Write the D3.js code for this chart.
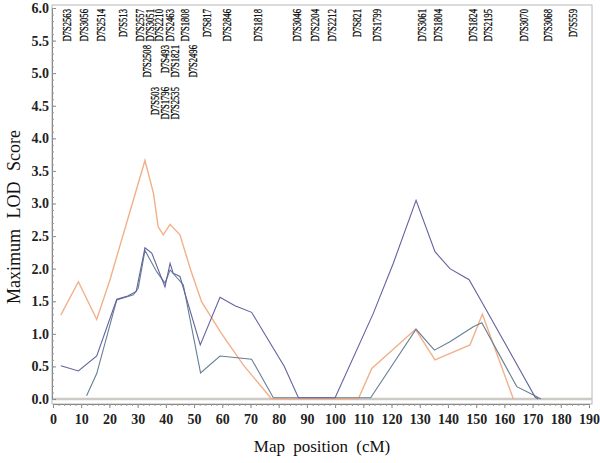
<!DOCTYPE html>
<html><head><meta charset="utf-8">
<script src="https://cdn.jsdelivr.net/npm/d3@7"></script>
<style>body{margin:0;background:#fff}svg{display:block}</style></head>
<body><svg id="c" width="600" height="463"></svg>
<script>
// ---- data ----
const markerNames = ["D7S2563","D7S3056","D7S2514","D7S513","D7S2557","D7S3051","D7S2210","D7S2463","D7S1808","D7S817","D7S2846","D7S1818","D7S3046",
  "D7S2508","D7S493","D7S1821","D7S2496",
  "D7S503","D7S1796","D7S2535",
  "D7S2204","D7S2212","D7S821","D7S1799","D7S3061","D7S1804","D7S1824","D7S2195","D7S3070","D7S3068","D7S559"];
const markerPos = [4.9,11.0,16.9,24.9,30.8,34.4,37.7,41.5,46.8,54.5,61.6,72.6,86.4,
  33.3,39.7,43.2,49.7,
  36.2,39.7,43.2,
  92.9,98.8,107.7,114.7,130.7,136.6,149.0,154.3,167.0,175.6,184.4];
const markerRow = [0,0,0,0,0,0,0,0,0,0,0,0,0, 1,1,1,1, 2,2,2, 0,0,0,0,0,0,0,0,0,0,0];

const orangeSeries = [[2.8,1.29],[9.0,1.80],[15.5,1.22],[20.2,1.83],[32.6,3.66],[35.6,3.16],[37.3,2.64],[39.1,2.52],[41.5,2.68],[45.0,2.52],[48.8,1.98],[52.7,1.49],[59.8,1.0],[67.5,0.52],[77.5,0.0],[108.2,0.0],[113,0.47],[128.5,1.07],[135.4,0.60],[147.8,0.83],[152.2,1.30],[163.2,0.0]];
const blueSeries = [[2.8,0.51],[9.0,0.43],[15.5,0.66],[22.6,1.53],[26.5,1.58],[29.5,1.65],[32.6,2.32],[35.0,2.24],[39.7,1.72],[41.5,2.08],[42.6,1.93],[45.0,1.88],[52.2,0.83],[59.2,1.56],[64.5,1.43],[70.4,1.33],[82,0.5],[87,0.02],[100,0.02],[113.5,1.31],[120.6,2.08],[128.7,3.05],[135.4,2.26],[140.7,2.0],[147.5,1.83],[152,1.49],[170.9,0.03],[172,0.0]];
const tealSeries = [[11.9,0.05],[15.5,0.39],[22.6,1.52],[28.5,1.60],[30.2,1.70],[32.6,2.28],[36.8,1.95],[39.7,1.78],[41.5,1.98],[46.2,1.75],[52.3,0.40],[59.2,0.66],[70.4,0.61],[78.1,0.02],[112.6,0.02],[128.7,1.07],[135.2,0.75],[140.7,0.88],[149,1.11],[152,1.17],[164.4,0.19],[170.3,0.06],[173,0.0]];

const yTicks = [0,0.5,1,1.5,2,2.5,3,3.5,4,4.5,5,5.5,6];
const xTicks = [0,10,20,30,40,50,60,70,80,90,100,110,120,130,140,150,160,170,180,190];

// ---- drawing ----
const svg = d3.select("#c");
const x = d3.scaleLinear().domain([0,190]).range([53,589]);
const y = d3.scaleLinear().domain([0,6]).range([399,8]);
const serif = "'Liberation Serif','DejaVu Serif',serif";

svg.append("rect").attr("x",52).attr("y",5).attr("width",540).attr("height",399)
  .attr("fill","none").attr("stroke","#b8b8b8").attr("stroke-width",1);

// zero reference line
svg.append("line").attr("x1",52).attr("x2",592).attr("y1",y(0)).attr("y2",y(0))
  .attr("stroke","#cdc9c4").attr("stroke-width",2.5);

// y axis
const yAx = svg.append("g").attr("transform","translate(52,0)")
  .call(d3.axisLeft(y).tickValues(yTicks).tickFormat(d3.format(".1f")).tickSizeInner(-4).tickSizeOuter(0).tickPadding(3));
yAx.select(".domain").attr("stroke","#888");
yAx.selectAll(".tick line").attr("stroke","#888");
yAx.selectAll("text").attr("font-family",serif).attr("font-size",14).attr("font-weight","bold").attr("fill","#222");
svg.append("g").attr("transform","translate(52,0)")
  .call(d3.axisLeft(y).tickValues(d3.range(0,6.001,0.1)).tickFormat("").tickSizeInner(-2).tickSizeOuter(0))
  .call(g=>{g.select(".domain").remove(); g.selectAll("line").attr("stroke","#999");});

// x axis
const xAx = svg.append("g").attr("transform","translate(0,404)")
  .call(d3.axisBottom(x).tickValues(xTicks).tickSizeInner(4).tickSizeOuter(0).tickPadding(6));
xAx.select(".domain").attr("stroke","#888");
xAx.selectAll(".tick line").attr("stroke","#888");
xAx.selectAll("text").attr("font-family",serif).attr("font-size",14).attr("font-weight","bold").attr("fill","#222");
svg.append("g").attr("transform","translate(0,404)")
  .call(d3.axisBottom(x).tickValues(d3.range(0,190.01,2)).tickFormat("").tickSizeInner(2).tickSizeOuter(0))
  .call(g=>{g.select(".domain").remove(); g.selectAll("line").attr("stroke","#999");});

// titles
svg.append("text").attr("x",322).attr("y",452).attr("text-anchor","middle")
  .attr("font-family",serif).attr("font-size",17).attr("fill","#111").attr("word-spacing",4)
  .text("Map position (cM)");
svg.append("text").attr("transform","translate(20,217) rotate(-90)").attr("text-anchor","middle")
  .attr("font-family",serif).attr("font-size",18).attr("fill","#111").attr("word-spacing",6)
  .text("Maximum LOD Score");

// marker labels
const rowTop = [9,45,87];
svg.append("g").selectAll("text").data(markerNames).join("text")
  .attr("transform",(d,i)=>`translate(${x(markerPos[i])},${rowTop[markerRow[i]]}) rotate(-90) scale(0.72,1)`)
  .attr("text-anchor","end").attr("dominant-baseline","central")
  .attr("font-family",serif).attr("font-size",12).attr("fill","#000")
  .attr("stroke","#000").attr("stroke-width",0.25)
  .text(d=>d);

// series
const line = d3.line().x(d=>x(d[0])).y(d=>y(d[1]));
svg.append("path").datum(orangeSeries).attr("d",line).attr("fill","none").attr("stroke","#f2b08a").attr("stroke-width",1.4);
svg.append("path").datum(tealSeries).attr("d",line).attr("fill","none").attr("stroke","#667f94").attr("stroke-width",1.1);
svg.append("path").datum(blueSeries).attr("d",line).attr("fill","none").attr("stroke","#62629e").attr("stroke-width",1.1);
</script></body></html>
